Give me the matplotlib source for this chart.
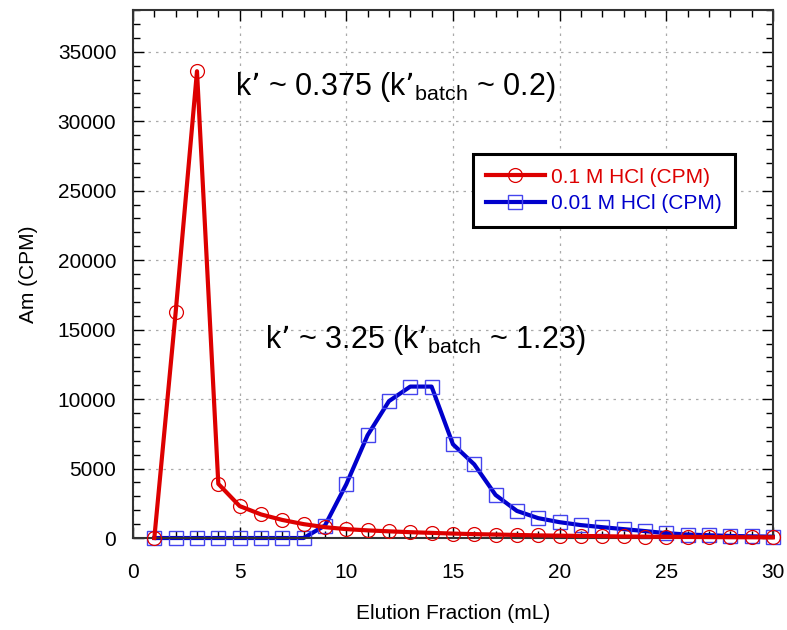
import numpy as np
import matplotlib
matplotlib.use("Agg")
import matplotlib.pyplot as plt
from matplotlib.ticker import MultipleLocator

plt.rcParams['font.family'] = ['Liberation Sans', 'DejaVu Sans']

# elution fraction (mL)
fraction = np.arange(1, 31)

# 0.1 M HCl activity (CPM)
hcl_01 = [0, 16250, 33600, 3900, 2300, 1700, 1300, 1000, 780, 640,
          550, 480, 420, 370, 320, 280, 250, 220, 190, 170,
          150, 130, 110, 100, 90, 80, 70, 60, 55, 50]

# 0.01 M HCl activity (CPM)
hcl_001 = [0, 0, 0, 0, 0, 0, 0, 0, 900, 3870,
           7400, 9850, 10900, 10900, 6750, 5300, 3100, 1950, 1430, 1140,
           930, 780, 640, 500, 350, 250, 200, 150, 120, 100]

red = '#dd0000'
blue = '#0000cc'

fig = plt.figure(figsize=(7.87, 6.3), dpi=100)
ax = fig.add_axes([0.169, 0.146, 0.813, 0.838])

ax.plot(fraction, hcl_001, '-', color=blue, lw=3.0, marker='s', ms=10.5,
        mfc='none', mec='#4444ee', mew=1.0, label='0.01 M HCl (CPM)',
        zorder=2, clip_on=False)
ax.plot(fraction, hcl_01, '-', color=red, lw=3.0, marker='o', ms=10,
        mfc='none', mec=red, mew=0.9, label='0.1 M HCl (CPM)',
        zorder=3, clip_on=False)

ax.set_xlim(0, 30)
ax.set_ylim(0, 38000)
ax.xaxis.set_major_locator(MultipleLocator(5))
ax.xaxis.set_minor_locator(MultipleLocator(1))
ax.yaxis.set_major_locator(MultipleLocator(5000))
ax.yaxis.set_minor_locator(MultipleLocator(1000))
ax.tick_params(which='both', direction='in', top=True, right=True, labelsize=15)
ax.tick_params(axis='x', which='major', pad=18)
ax.tick_params(axis='y', which='major', pad=12)
ax.tick_params(which='major', length=8, width=1)
ax.tick_params(which='minor', length=5, width=1)
ax.grid(True, which='major', linestyle=(0, (2, 4)), color='#aaaaaa', lw=0.9)
for s in ax.spines.values():
    s.set_linewidth(1.5)
    s.set_color('#333333')

ax.set_xlabel('Elution Fraction (mL)', fontsize=15, labelpad=16)
ax.set_ylabel('Am (CPM)', fontsize=15, labelpad=14)

ax.text(4.8, 31900, "k\u2019 ~ 0.375 (k\u2019$_{\\mathregular{batch}}$ ~ 0.2)", fontsize=22)
ax.text(6.2, 13700, "k\u2019 ~ 3.25 (k\u2019$_{\\mathregular{batch}}$ ~ 1.23)", fontsize=22)

handles, labels = ax.get_legend_handles_labels()
leg = ax.legend(handles[::-1], labels[::-1], loc='upper left',
                bbox_to_anchor=(0.531, 0.727), borderaxespad=0, fontsize=15,
                handlelength=2.8, fancybox=False, framealpha=1, edgecolor='black',
                borderpad=0.65, labelspacing=0.35, handletextpad=0.3)
leg.get_frame().set_linewidth(2.2)
for txt, c in zip(leg.get_texts(), [red, blue]):
    txt.set_color(c)

fig.savefig('out.png', dpi=100)
